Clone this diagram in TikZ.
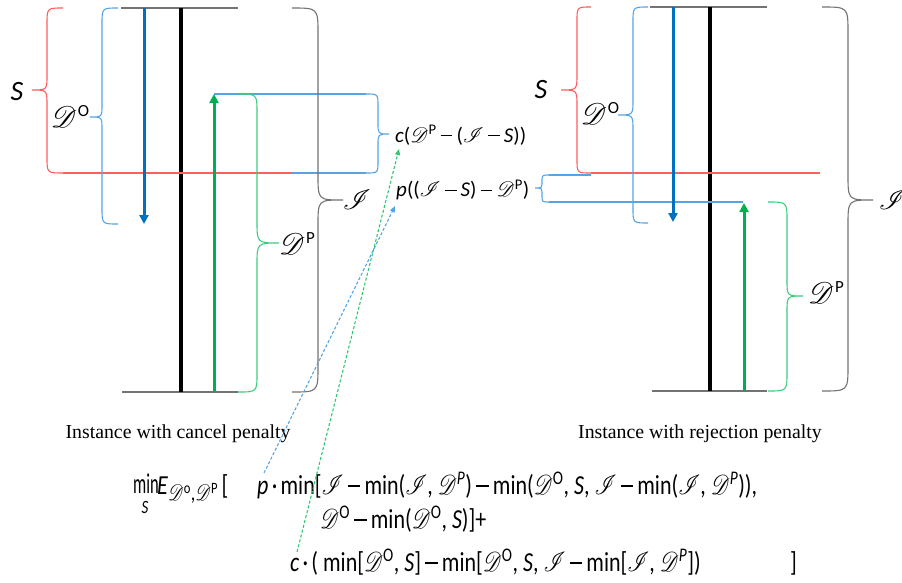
\documentclass[tikz,border=0pt]{standalone}
\usepackage{fontspec}
\usepackage{mathrsfs}
\setmainfont{Liberation Serif}
\setsansfont{Carlito}
\DeclareFontFamily{U}{rsfs}{\skewchar\font127 }
\DeclareFontShape{U}{rsfs}{m}{n}{<-6>rsfs5 <6-8>rsfs7 <8->rsfs10}{}
\usetikzlibrary{arrows.meta}
\definecolor{sred}{RGB}{255,95,95}
\definecolor{lblue}{RGB}{85,165,230}
\definecolor{lgreen}{RGB}{60,205,125}
\definecolor{dblue}{RGB}{0,112,192}
\definecolor{dgreen}{RGB}{0,176,80}
\definecolor{grl}{RGB}{115,115,115}
\newcommand\sD{\ensuremath{\mathscr{D}}}
\newcommand\sI{\ensuremath{\mathscr{I}}}
\newcommand\mi{\hspace{0.2em}\rule[0.27em]{0.55em}{0.06em}\hspace{0.2em}}
\newcommand\cd{\hspace{0.15em}·\hspace{0.15em}}
\newcommand\DO{\sD\textsuperscript{O}}
\newcommand\DP{\sD\textsuperscript{P}}
\newcommand\DPi{\sD\textsuperscript{\itshape P}}
% big label D with superscript
\newcommand\bigD[1]{{\fontsize{30}{30}\selectfont\sD}\kern1pt\raisebox{11pt}{\fontsize{17}{17}\selectfont #1}}
% brace: style, end x, vertical x, tip x, y1, ym, y2
\newcommand\brc[7]{%
  \draw[#1] (#2,#5) .. controls (#3,#5) .. ({#3},{#5+abs(#3-#2)})
    -- ({#3},{#6-abs(#4-#3)}) .. controls (#3,#6) .. (#4,#6)
    .. controls (#3,#6) .. ({#3},{#6+abs(#4-#3)})
    -- ({#3},{#7-abs(#3-#2)}) .. controls (#3,#7) .. (#2,#7);}
\newcommand\tall[1]{\scalebox{1}[1.25]{#1}}
\tikzset{
  thin line/.style={line width=1.1pt},
  bigarrow/.style={line width=3pt,-{Triangle[length=9pt,width=9pt]}},
  lab/.style={inner sep=0pt,font=\sffamily\fontsize{21}{21}\selectfont},
  biglab/.style={inner sep=0pt,font=\sffamily\fontsize{28}{28}\selectfont},
  frm/.style={inner sep=0pt,anchor=base west,font=\sffamily\fontsize{22}{22}\selectfont},
  captext/.style={inner sep=0pt,anchor=base,font=\rmfamily\fontsize{19.8}{20}\selectfont},
  dsh/.style={line width=1.1pt,dash pattern=on 3pt off 2pt,-{Triangle[length=6pt,width=5pt]}}
}
\begin{document}
\begin{tikzpicture}[x=1pt,y=-1pt]
\useasboundingbox (0,0) rectangle (902,582);
\clip (0,0) rectangle (902,582);
\fill[white] (0,0) rectangle (902,582);
% ---------- left instance ----------
\draw[grl,thin line] (121,8) -- (238,8);
\draw[grl,thin line] (122,392) -- (238,392);
\draw[line width=4pt] (181,8) -- (181,392);
\brc{sred,thin line}{63}{47}{32}{8}{90}{173}
\draw[sred,thin line] (63,173) -- (292,173);
\draw[lblue,thin line] (292,173) -- (366,173);
\draw[lblue,thin line] (214,94) -- (366,94);
\brc{lblue,thin line}{366}{378}{389}{94}{134}{173}
\brc{lblue,thin line}{118}{102}{90}{8}{117}{224}
\brc{lgreen,thin line}{238}{257}{279}{94}{243}{392}
\brc{grl,thin line}{292}{318}{343}{8}{200}{392}
\draw[dblue,bigarrow] (144,8) -- (144,224);
\draw[dgreen,bigarrow] (214,392) -- (214,94);
\node[biglab] (SL) at (17,92) {\itshape S};
\node[biglab] (DOL) at (70,116) {\bigD{O}};
\node[biglab] (DPL) at (297,244) {\bigD{P}};
\node[biglab] (IL) at (357,200) {\sI};
% ---------- right instance ----------
\draw[grl,thin line] (650,7) -- (767,7);
\draw[grl,thin line] (652,391) -- (767,391);
\draw[line width=4pt] (710,7) -- (710,391);
\brc{sred,thin line}{591}{577}{561}{7}{90}{173}
\draw[sred,thin line] (591,173) -- (820,173);
\draw[lblue,thin line] (549,175) -- (591,175);
\draw[lblue,thin line] (549,202) -- (743,202);
\brc{lblue,thin line}{549}{542}{535}{175}{188}{202}
\brc{lblue,thin line}{648}{633}{618}{7}{115}{223}
\brc{lgreen,thin line}{768}{787}{803}{202}{296}{391}
\brc{grl,thin line}{822}{848}{873}{7}{200}{391}
\draw[dblue,bigarrow] (673,7) -- (673,222);
\draw[dgreen,bigarrow] (744,391) -- (744,203);
\node[biglab] (SR) at (541,90) {\itshape S};
\node[biglab] (DOR) at (600,113) {\bigD{O}};
\node[biglab] (DPR) at (826,293) {\bigD{P}};
\node[biglab] (IR) at (893,200) {\sI};
% ---------- middle labels ----------
\node[lab,anchor=west] (CL) at (395,135) {\itshape c\upshape(\DP\mi(\sI\mi\textit{S}))};
\node[lab,anchor=west] (PL) at (396,190) {\itshape p\upshape((\sI\mi\textit{S})\mi\DP)};
% ---------- captions ----------
\node[captext] (C1) at (178,438) {Instance with cancel penalty};
\node[captext] (C2) at (700,438) {Instance with rejection penalty};
% ---------- formula ----------
\node[frm] (F0) at (133,493) {\scalebox{0.75}[1.3]{min}};
\node[inner sep=0pt,font=\sffamily\itshape\fontsize{15}{15}\selectfont] (FS) at (145,507) {\tall{S}};
\node[frm] (F0b) at (157,494) {\tall{\textit{E}\raisebox{-0.25em}{\fontsize{18}{18}\selectfont\sD\textsuperscript{o},\sD\textsuperscript{P}}\,[}};
\node[frm] (F1) at (257,494) {\tall{\textit{p}\cd min[\sI\mi min(\sI, \DPi)\mi min(\DO, \textit{S}, \sI\mi min(\sI, \DPi)),}};
\node[frm] (F2) at (320,528) {\tall{\DO\mi min(\DO, \textit{S})]+}};
\node[frm] (F3) at (290,571) {\tall{\textit{c}\cd( min[\DO, \textit{S}]\mi min[\DO, \textit{S}, \sI\mi min[\sI, \DPi])}};
\node[frm] (F4) at (790,571) {\tall{]}};
% ---------- dashed connectors ----------
\coordinate (pfrom) at (264,473);
\coordinate (cfrom) at (297,552);
\coordinate (pto) at (395,206);
\coordinate (cto) at (399,149);
\draw[dsh,lblue] (pfrom) -- (pto);
\draw[dsh,lgreen!80!dgreen] (cfrom) -- (cto);
\end{tikzpicture}
\end{document}
